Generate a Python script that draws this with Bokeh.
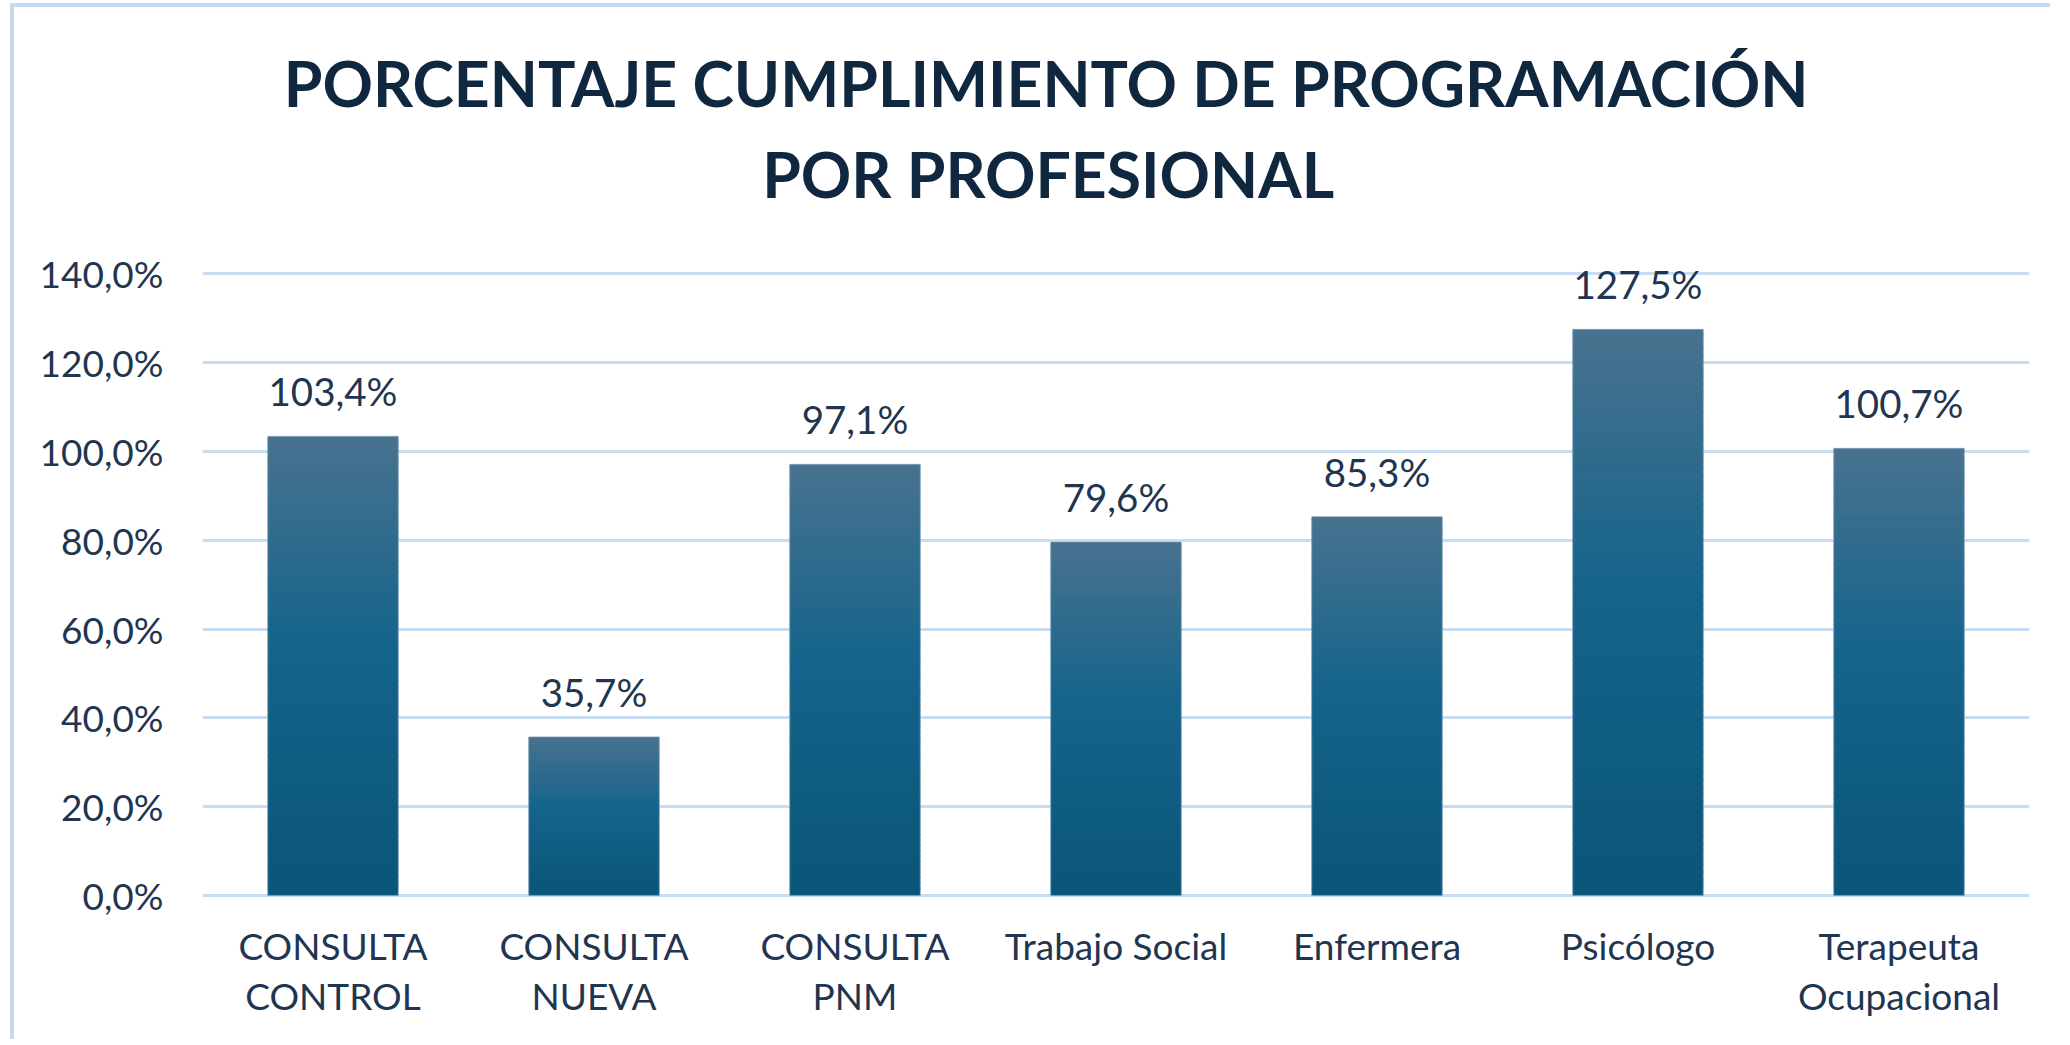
from bokeh.plotting import figure
from bokeh.models import FixedTicker, Label, Range1d, ColumnDataSource
from bokeh.core.properties import value
from bokeh.embed import file_html
from bokeh.resources import INLINE

# ---- data ----
categories = ["CONSULTA\nCONTROL", "CONSULTA\nNUEVA", "CONSULTA\nPNM", "Trabajo Social",
              "Enfermera", "Psicólogo", "Terapeuta\nOcupacional"]
values = [103.4, 35.7, 97.1, 79.6, 85.3, 127.5, 100.7]
value_labels = ["103,4%", "35,7%", "97,1%", "79,6%", "85,3%", "127,5%", "100,7%"]
y_ticks = [0, 20, 40, 60, 80, 100, 120, 140]
y_tick_labels = ["0,0%", "20,0%", "40,0%", "60,0%", "80,0%", "100,0%", "120,0%", "140,0%"]
title_lines = ["PORCENTAJE CUMPLIMIENTO DE PROGRAMACIÓN", "POR PROFESIONAL"]

# ---- style ----
W, H = 2040, 1036
FONT = "Lato"
TEXT_COLOR = "#1f3550"
TITLE_COLOR = "#10283f"
GRID_COLOR = "#c9ddf2"
stops = [(0.0, (0x48, 0x72, 0x8f)), (0.45, (0x15, 0x64, 0x8b)), (1.0, (0x0a, 0x55, 0x79))]


def grad_color(t):
    # t: 0 at top of bar, 1 at bottom
    for (t0, c0), (t1, c1) in zip(stops[:-1], stops[1:]):
        if t0 <= t <= t1:
            f = (t - t0) / (t1 - t0)
            c = [round(a + (b - a) * f) for a, b in zip(c0, c1)]
            return "#%02x%02x%02x" % tuple(c)
    return "#%02x%02x%02x" % stops[-1][1]


# the frame reaches up to the canvas top so the title can sit inside it
p = figure(width=W, height=H, x_range=categories, y_range=Range1d(-0.7, 200),
           output_backend="svg", toolbar_location=None, title=None,
           min_border_left=188, min_border_right=25, min_border_top=0, min_border_bottom=145)
p.styles = {"border-top": "4px solid #c5daf0", "border-left": "4px solid #c5daf0",
            "margin-left": "10px", "margin-top": "3px"}
p.outline_line_color = None
p.background_fill_color = "white"
p.border_fill_color = "white"

# gradient bars built from slices of each bar's own value
N = 80
xs, bottoms, tops, colors = [], [], [], []
for cat, v in zip(categories, values):
    for i in range(N):
        xs.append(cat)
        bottoms.append(v * i / N)
        tops.append(min(v, v * (i + 1.6) / N))
        colors.append(grad_color(1 - (i + 0.5) / N))
p.vbar(x=xs, bottom=bottoms, top=tops, width=0.5, fill_color=colors, line_color=None)
p.vbar(x=categories, top=values, width=0.5, fill_color=None, line_color="#7f9fb8",
       line_width=1, line_alpha=0.7)

# data labels
src = ColumnDataSource(dict(x=categories, y=values, t=value_labels))
p.text(x="x", y="y", text="t", source=src, text_align="center", text_baseline="alphabetic",
       y_offset=-45, text_font=value(FONT), text_font_size="38.5px", text_color=TEXT_COLOR)

# axes & grid
p.yaxis.ticker = FixedTicker(ticks=y_ticks)
p.yaxis.major_label_overrides = {t: l for t, l in zip(y_ticks, y_tick_labels)}
p.ygrid.ticker = FixedTicker(ticks=y_ticks)
p.ygrid.grid_line_color = GRID_COLOR
p.ygrid.grid_line_width = 3
p.xgrid.grid_line_color = None
for ax in (p.xaxis, p.yaxis):
    ax.axis_line_color = None
    ax.major_tick_line_color = None
    ax.minor_tick_line_color = None
    ax.major_label_text_font = FONT
    ax.major_label_text_font_size = "37px"
    ax.major_label_text_color = TEXT_COLOR
p.yaxis.major_label_standoff = 33
p.xaxis.major_label_standoff = 18
p.xaxis.major_label_text_line_height = 1.125

# title: two centred lines above the 140 % gridline
for txt, cx, by in zip(title_lines, [3.232, 3.240], [183.15, 162.55]):
    p.add_layout(Label(x=cx, y=by, text=txt, text_align="center", text_baseline="alphabetic",
                       text_font=FONT, text_font_style="bold", text_font_size="62.5px",
                       text_color=TITLE_COLOR))

open("out.html", "w").write(file_html(p, INLINE))
